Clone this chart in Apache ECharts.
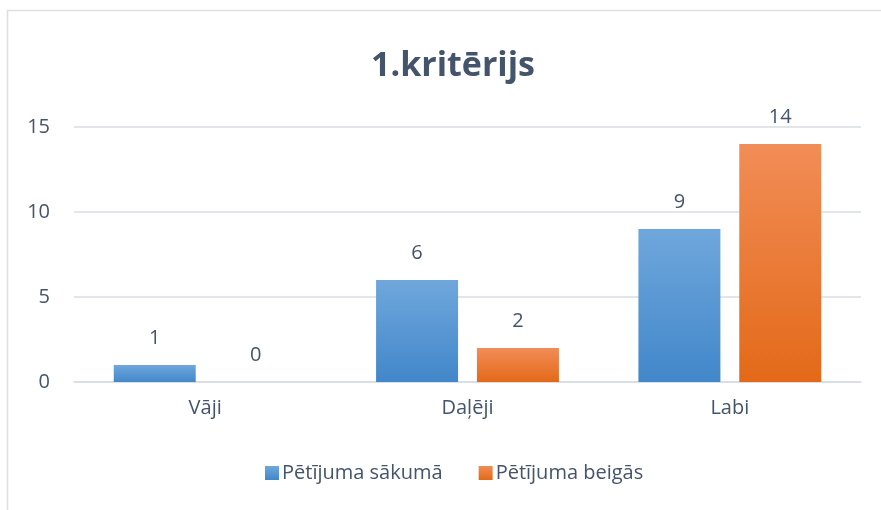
<!DOCTYPE html>
<html>
<head>
<meta charset="utf-8">
<script src="https://cdn.jsdelivr.net/npm/echarts@6/dist/echarts.min.js"></script>
<style>
  html, body { margin: 0; padding: 0; background: #fff; }
  #chart { width: 881px; height: 510px; }
</style>
</head>
<body>
<div id="chart"></div>
<script>
var categories = ['Vāji', 'Daļēji', 'Labi'];
var seriesNames = ['Pētījuma sākumā', 'Pētījuma beigās'];
var startValues = [1, 6, 9];
var endValues = [0, 2, 14];
var yTicks = { min: 0, max: 15, interval: 5 };

var textColor = '#44546A';
var fontFam = '"Open Sans", sans-serif';

var grad = function (top, bottom) {
    return new echarts.graphic.LinearGradient(0, 0, 0, 1, [
        { offset: 0, color: top },
        { offset: 1, color: bottom }
    ]);
};

var labelStyle = {
    show: true,
    position: 'top',
    distance: 17,
    color: textColor,
    fontSize: 20,
    fontFamily: fontFam
};

var myChart = echarts.init(document.getElementById('chart'));

myChart.setOption({
    animation: false,
    title: {
        text: '1.kritērijs',
        left: 448,
        textAlign: 'center',
        top: 44,
        textStyle: {
            color: textColor,
            fontSize: 34,
            fontWeight: 'bold',
            fontFamily: fontFam
        }
    },
    graphic: [{
        type: 'rect',
        shape: { x: 7.5, y: 10.5, width: 900, height: 520 },
        style: { fill: 'none', stroke: '#DCE0E6', lineWidth: 1.5 },
        silent: true
    }],
    legend: {
        left: 260,
        top: 458,
        itemWidth: 14,
        itemHeight: 14,
        itemGap: 36,
        textStyle: { color: textColor, fontSize: 20, fontFamily: fontFam, padding: [0, 0, 0, -2] },
        data: [
            { name: seriesNames[0], icon: 'rect' },
            { name: seriesNames[1], icon: 'rect' }
        ]
    },
    grid: { left: 74, right: 20, top: 127, bottom: 128 },
    xAxis: {
        type: 'category',
        data: categories,
        axisLine: { lineStyle: { color: '#D9DDE3', width: 1.5 } },
        axisTick: { show: false },
        axisLabel: { color: textColor, fontSize: 20, fontFamily: fontFam, margin: 16 }
    },
    yAxis: {
        type: 'value',
        min: yTicks.min,
        max: yTicks.max,
        interval: yTicks.interval,
        axisLine: { show: false },
        axisTick: { show: false },
        axisLabel: { color: textColor, fontSize: 20, fontFamily: fontFam, margin: 24 },
        splitLine: { lineStyle: { color: '#D9DDE3', width: 1.5 } }
    },
    color: ['#5B9BD5', '#ED7D31'],
    series: [
        {
            name: seriesNames[0],
            type: 'bar',
            data: startValues,
            barWidth: 82,
            barGap: '23%',
            itemStyle: { color: grad('#6FA7DC', '#4287CA') },
            label: labelStyle
        },
        {
            name: seriesNames[1],
            type: 'bar',
            data: endValues,
            barWidth: 82,
            itemStyle: { color: grad('#F18D57', '#E36918') },
            label: labelStyle
        }
    ]
});
</script>
</body>
</html>
